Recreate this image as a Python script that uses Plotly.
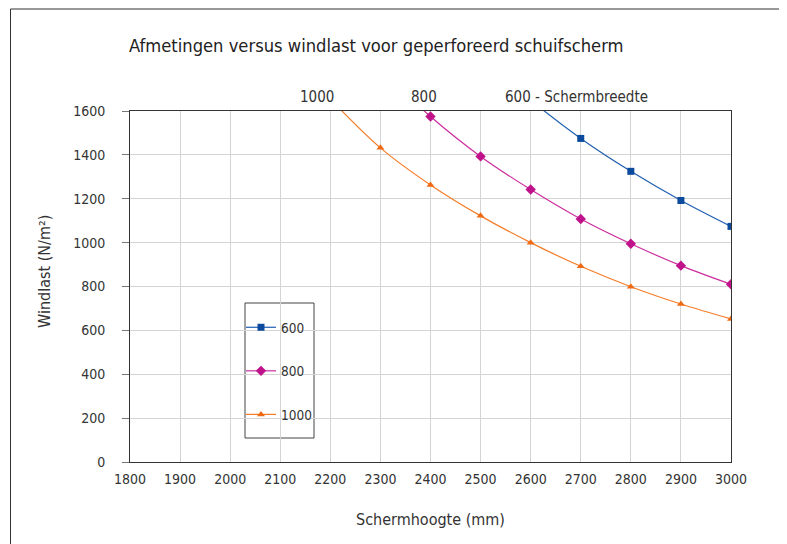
import plotly.graph_objects as go

# Data (values above 1600 are estimates of the clipped part)
heights = [2200, 2300, 2400, 2500, 2600, 2700, 2800, 2900, 3000]
w600 = [None, None, None, 1850, 1650, 1475, 1325, 1192, 1074]
w800 = [None, 1790, 1575, 1393, 1242, 1108, 995, 895, 810]
w1000 = [1655, 1432, 1263, 1122, 1000, 892, 799, 720, 652]
series_names = ["600", "800", "1000"]
x_ticks = list(range(1800, 3001, 100))
y_ticks = list(range(0, 1601, 200))

styles = {
    "600": ("#1f5fb0", "#0b4a9c", "square", 7),
    "800": ("#cc2d9e", "#c0128a", "diamond", 8),
    "1000": ("#f57d2a", "#f06a14", "triangle-up", 7),
}

FONT = "DejaVu Sans Condensed, DejaVu Sans, sans-serif"
TXT = "#333333"

# page body has an 8px margin: figure sits at (8,8)
OFF = 8
W, H = 787 - OFF, 544 - OFF
PL, PR, PT, PB = 130, 731, 111, 462  # plot area in page pixels
pw, ph = PR - PL, PB - PT


def px(xp):
    return (xp - PL) / pw


def py(yp):
    return (PB - yp) / ph


fig = go.Figure()
for name, vals in zip(series_names, [w600, w800, w1000]):
    lc, mc, sym, ms = styles[name]
    fig.add_trace(go.Scatter(
        x=heights, y=vals, name=name, mode="lines+markers",
        line=dict(color=lc, width=1.2, shape="spline"),
        marker=dict(color=mc, symbol=sym, size=ms),
        connectgaps=False, legendgroup=name,
    ))

fig.update_layout(
    width=W, height=H,
    margin=dict(l=PL - OFF, r=W - (PR - OFF), t=PT - OFF, b=H - (PB - OFF)),
    paper_bgcolor="white", plot_bgcolor="white",
    font=dict(family=FONT, color=TXT, size=13),
    showlegend=True,
    legend=dict(
        x=px(241), y=py(312), xanchor="left", yanchor="top",
        borderwidth=0, bgcolor="rgba(0,0,0,0)",
        font=dict(size=13.5, family=FONT, color=TXT),
        tracegroupgap=23, traceorder="grouped",
        itemwidth=30,
    ),
    xaxis=dict(
        range=[1800, 3000], tickmode="array", tickvals=x_ticks,
        showgrid=True, gridcolor="#d4d4d4", gridwidth=1,
        showline=True, linecolor="#333333", linewidth=1, mirror=True,
        ticks="", tickfont=dict(size=14, family=FONT, color=TXT),
        ticklabelstandoff=4, zeroline=False,
    ),
    yaxis=dict(
        range=[0, 1600], tickmode="array", tickvals=y_ticks,
        showgrid=True, gridcolor="#d4d4d4", gridwidth=1,
        showline=True, linecolor="#333333", linewidth=1, mirror=True,
        ticks="outside", ticklen=7, tickcolor="#777777",
        tickfont=dict(size=14, family=FONT, color=TXT),
        ticklabelstandoff=14, zeroline=False,
    ),
)

# Legend frame
fig.add_shape(
    type="rect", xref="paper", yref="paper",
    x0=px(245), x1=px(314), y0=py(438), y1=py(303),
    line=dict(color="#444444", width=1), fillcolor="white", layer="below",
)
# Title
fig.add_annotation(
    text="Afmetingen versus windlast voor geperforeerd schuifscherm",
    xref="paper", yref="paper", x=px(127), y=py(45),
    xanchor="left", yanchor="middle", showarrow=False,
    font=dict(size=18.2, family=FONT, color="#222222"),
)
# Top width labels
for txt, xl in [("1000", 298), ("800", 409), ("600 - Schermbreedte", 503)]:
    fig.add_annotation(
        text=txt, xref="paper", yref="paper", x=px(xl), y=py(97),
        xanchor="left", yanchor="middle", showarrow=False,
        font=dict(size=15, family=FONT, color=TXT),
    )
# Axis titles
fig.add_annotation(
    text="Windlast (N/m²)", xref="paper", yref="paper",
    x=px(44), y=py(272), textangle=-90, xanchor="center", yanchor="middle",
    showarrow=False, font=dict(size=16, family=FONT, color=TXT),
)
fig.add_annotation(
    text="Schermhoogte (mm)", xref="paper", yref="paper",
    x=0.5, y=py(519), xanchor="center", yanchor="middle",
    showarrow=False, font=dict(size=16, family=FONT, color=TXT),
)
# Outer frame
fig.add_shape(
    type="rect", xref="paper", yref="paper",
    x0=px(10.5), x1=px(779.5), y0=py(570), y1=py(9),
    line=dict(color="#333333", width=1), fillcolor="rgba(0,0,0,0)", layer="below",
)

fig.write_html("out.html")
